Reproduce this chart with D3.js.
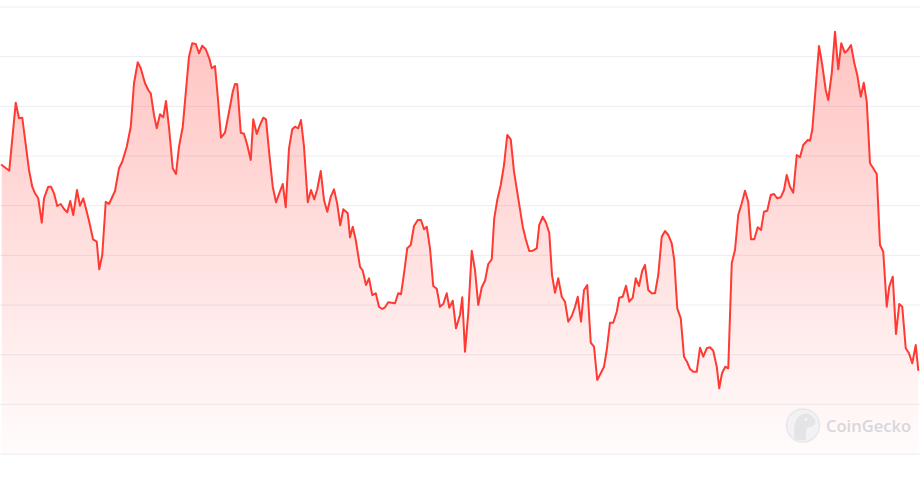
<!DOCTYPE html>
<html>
<head>
<meta charset="utf-8">
<script src="https://cdn.jsdelivr.net/npm/d3@7"></script>
<style>
  html, body { margin: 0; padding: 0; background: #ffffff; }
  svg { display: block; }
</style>
</head>
<body>
<svg id="chart" width="920" height="481"></svg>
<script>
// Day offsets (from start of period) for each observation
const days = [
  0.7,3.7,6.3,7.6,8.9,10.4,11.6,12.9,14.0,15.3,16.7,17.6,19.3,20.4,21.6,22.9,24.3,25.6,26.9,28.1,
  29.3,30.8,32.0,33.3,34.7,35.7,37.2,38.7,39.7,40.9,42.3,43.6,46.0,47.6,48.9,50.7,52.3,53.6,55.1,56.3,
  58.0,59.3,60.3,61.6,62.7,64.0,65.3,66.4,67.7,69.1,70.4,71.6,73.1,74.4,75.6,76.9,78.3,79.6,80.9,82.3,
  83.7,84.7,86.0,87.1,88.4,90.0,92.0,93.1,94.0,94.9,96.3,97.6,98.9,100.3,101.3,102.7,104.0,105.3,106.4,107.7,
  109.1,110.4,111.7,113.1,114.3,115.6,116.9,118.0,119.3,120.4,121.6,123.1,124.4,125.7,126.9,128.3,129.6,130.9,132.3,133.6,
  134.9,136.1,137.3,139.1,140.0,141.1,142.3,144.0,145.1,146.4,147.6,148.9,150.3,151.6,152.9,154.0,155.3,156.7,158.0,159.3,
  160.4,161.7,162.9,164.3,165.6,167.1,168.4,169.6,170.7,172.0,173.3,174.7,176.0,177.3,178.7,179.7,181.1,182.4,184.0,184.9,
  186.0,187.3,188.7,190.0,191.3,192.7,194.0,195.3,196.7,197.7,198.9,200.3,201.6,202.9,204.3,205.6,207.3,209.1,210.4,211.7,
  213.1,214.7,215.7,217.1,218.4,219.7,220.8,222.0,223.3,224.7,226.0,227.3,228.7,230.0,231.1,232.4,233.6,234.9,236.3,237.6,
  238.9,240.3,241.6,242.7,244.0,245.3,246.7,247.7,249.1,250.4,251.7,253.1,254.3,255.6,256.9,258.0,259.3,260.7,262.0,263.3,
  264.7,266.0,267.3,268.7,269.7,270.9,272.3,273.6,274.9,276.0,277.3,278.7,280.0,281.3,282.7,284.0,285.3,286.7,287.7,288.8,
  290.1,291.3,292.7,294.0,295.3,296.7,298.0,299.3,300.4,301.7,303.1,304.4,305.6,306.9,308.3,309.6,310.9,312.3,313.6,314.7,
  316.0,317.3,318.7,320.0,321.3,323.1,324.0,324.9,326.3,327.6,328.9,330.3,331.3,332.7,334.0,335.3,336.5,337.9,339.1,340.4,
  341.7,342.9,344.3,345.5,346.7,348.0,349.3,350.7,352.0,353.3,354.7,355.7,357.1,358.4,359.7,360.9,362.3,363.6,364.9,366.3,
  367.3
];
// Price at each observation
const prices = [
  28.85,28.28,35.08,33.52,33.58,30.68,28.35,26.68,26.02,25.52,23.08,25.52,26.68,26.68,26.02,24.75,24.95,24.45,24.12,25.25,
  23.85,26.35,24.78,25.52,24.18,23.18,21.42,21.18,18.42,19.85,25.18,24.95,26.25,28.52,29.18,30.68,32.68,37.02,39.12,38.52,
  37.02,36.35,36.02,33.85,32.52,33.92,33.62,35.25,32.35,28.52,27.95,30.68,32.68,36.35,39.68,41.02,40.95,40.02,40.78,40.42,
  39.52,38.52,38.75,35.68,31.58,32.08,34.68,36.18,36.95,36.92,32.08,31.98,30.85,29.35,33.42,31.95,32.85,33.58,33.42,30.02,
  26.68,25.12,26.02,26.95,24.62,30.52,32.42,32.68,32.52,33.35,30.68,25.12,26.35,25.42,26.42,28.25,25.35,24.18,25.68,26.42,
  24.95,22.82,24.42,24.02,21.62,22.68,21.35,18.68,18.28,16.85,17.52,15.85,16.02,14.68,14.45,14.62,15.12,15.08,15.02,16.02,
  15.92,18.18,20.52,20.85,22.75,23.35,23.35,22.42,22.68,20.52,16.75,16.48,14.68,14.95,16.02,14.58,15.28,12.52,13.85,15.62,
  10.18,14.02,20.28,18.35,14.85,16.62,17.28,18.95,19.42,23.52,25.35,26.85,28.85,31.85,31.42,28.18,25.52,22.68,21.35,20.25,
  20.28,20.52,22.85,23.68,23.08,22.08,17.85,16.08,17.52,15.68,15.18,13.18,13.75,14.65,15.68,13.18,16.35,16.85,11.08,10.68,
  7.35,8.02,8.68,10.35,13.08,13.08,14.18,15.58,15.68,16.78,15.18,15.58,17.52,16.75,18.28,18.85,16.35,16.02,16.02,17.85,
  21.68,22.25,21.85,21.02,19.35,14.52,13.52,9.68,9.12,8.45,8.18,8.18,10.58,9.68,10.52,10.62,10.28,8.68,6.52,8.02,
  8.68,8.52,19.02,20.35,23.85,25.02,26.28,25.18,21.42,21.42,22.62,22.35,24.18,24.28,25.85,25.95,25.52,25.62,26.35,27.85,
  26.68,26.08,29.85,29.62,30.85,31.35,31.28,32.35,36.68,40.75,38.85,36.35,35.35,38.02,42.18,38.42,41.02,40.08,40.35,40.85,
  39.08,37.85,35.68,37.08,35.18,29.02,28.52,27.95,20.85,20.18,14.68,16.68,17.68,11.95,14.95,14.68,10.52,10.02,9.02,10.85,
  8.35
];
const dayDomain = [0, 368];
const priceDomain = [0, 44.7];
const gridCount = 9; // intervals between horizontal grid lines
const brandLabel = "CoinGecko";

const W = 920, H = 481;
const svg = d3.select("#chart");

const x = d3.scaleLinear().domain(dayDomain).range([0, 920]);
const y = d3.scaleLinear().domain(priceDomain).range([453.5, 6.5]);

const data = days.map((d, i) => ({ d, p: prices[i] }));

// gradient
const defs = svg.append("defs");
const grad = defs.append("linearGradient")
  .attr("id", "fillGrad")
  .attr("gradientUnits", "userSpaceOnUse")
  .attr("x1", 0).attr("x2", 0)
  .attr("y1", y(d3.max(prices))).attr("y2", y(0));
grad.append("stop").attr("offset", "0%").attr("stop-color", "#ff3a33").attr("stop-opacity", 0.3);
grad.append("stop").attr("offset", "60%").attr("stop-color", "#ff3a33").attr("stop-opacity", 0.13);
grad.append("stop").attr("offset", "100%").attr("stop-color", "#ff3a33").attr("stop-opacity", 0.015);

// grid lines
const gridVals = d3.range(gridCount + 1).map(i => priceDomain[0] + (priceDomain[1] - priceDomain[0]) * i / gridCount);
const yAxis = d3.axisLeft(y).tickValues(gridVals).tickSize(-W).tickFormat("");
const gAxis = svg.append("g").attr("transform", "translate(0,0)").call(yAxis);
gAxis.select(".domain").remove();
gAxis.selectAll(".tick line").attr("stroke", "#eaedf1").attr("stroke-width", 1);

// area
const area = d3.area()
  .x(d => x(d.d))
  .y0(y(0))
  .y1(d => y(d.p));
svg.append("path")
  .datum(data)
  .attr("d", area)
  .attr("fill", "url(#fillGrad)");

// line
const line = d3.line()
  .x(d => x(d.d))
  .y(d => y(d.p));
svg.append("path")
  .datum(data)
  .attr("d", line)
  .attr("fill", "none")
  .attr("stroke", "#ff3a33")
  .attr("stroke-width", 2)
  .attr("stroke-linejoin", "round")
  .attr("stroke-linecap", "round");

// watermark
const wm = svg.append("g").attr("opacity", 0.9);
wm.append("circle")
  .attr("cx", 803).attr("cy", 425.5).attr("r", 16.5)
  .attr("fill", "#f1f1f3").attr("stroke", "#e6e6ea").attr("stroke-width", 1.5);
wm.append("path")
  .attr("d", "M795,440 C793,430 794,419 801,415 C807,412 813,415 815,420 C817,424 813,427 809,427 C806,428 805,432 806,440 Z")
  .attr("fill", "#e2e2e6");
wm.append("circle").attr("cx", 806).attr("cy", 419.5).attr("r", 1.4).attr("fill", "#f6f6f8");
wm.append("text")
  .attr("x", 826).attr("y", 431.5)
  .attr("font-family", "'Open Sans', 'Noto Sans', sans-serif")
  .attr("font-weight", 600)
  .attr("font-size", 17)
  .attr("fill", "#d4d4d9")
  .attr("textLength", 85)
  .attr("lengthAdjust", "spacingAndGlyphs")
  .text(brandLabel);
</script>
</body>
</html>
